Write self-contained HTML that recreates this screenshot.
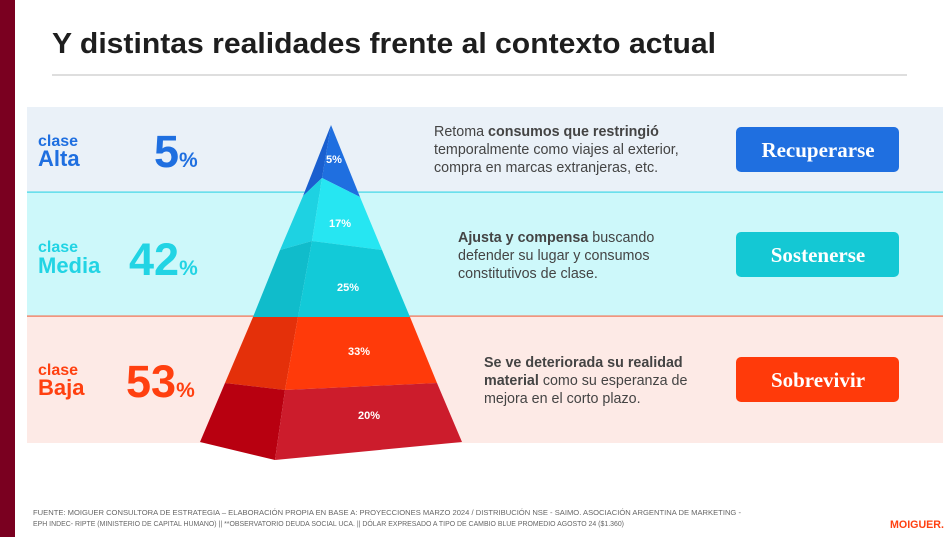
<!DOCTYPE html>
<html><head><meta charset="utf-8"><style>
html,body{margin:0;padding:0;background:#fff;}
svg{display:block;font-family:"Liberation Sans",sans-serif;}
</style></head><body>
<svg width="952" height="537" viewBox="0 0 952 537" xmlns="http://www.w3.org/2000/svg">
<rect x="0" y="0" width="15" height="537" fill="#7a0020"/>
<text x="52" y="53" font-size="29" font-weight="bold" fill="#1e1e1e" textLength="664" lengthAdjust="spacingAndGlyphs">Y distintas realidades frente al contexto actual</text>
<rect x="52" y="74.5" width="855" height="1" fill="#bdbdbd"/>
<rect x="27" y="107" width="916" height="85" fill="#eaf1f8"/>
<rect x="27" y="192" width="916" height="124" fill="#cdf8fa"/>
<rect x="27" y="316" width="916" height="127" fill="#fdeae6"/>
<rect x="27" y="191.5" width="916" height="1.2" fill="#3fd6e6"/>
<rect x="27" y="315.5" width="916" height="1.2" fill="#f07050"/>
<text x="38" y="146" font-size="16" font-weight="bold" fill="#1f6fe0">clase</text>
<text x="38" y="166" font-size="22" font-weight="bold" fill="#1f6fe0">Alta</text>
<text x="154" y="167" font-size="45" font-weight="bold" fill="#1f6fe0">5<tspan font-size="21">%</tspan></text>
<text x="38" y="252" font-size="16" font-weight="bold" fill="#22d4e4">clase</text>
<text x="38" y="273" font-size="22" font-weight="bold" fill="#22d4e4">Media</text>
<text x="129" y="275" font-size="45" font-weight="bold" fill="#22d4e4">42<tspan font-size="21">%</tspan></text>
<text x="38" y="375" font-size="16" font-weight="bold" fill="#ff4010">clase</text>
<text x="38" y="395" font-size="22" font-weight="bold" fill="#ff4010">Baja</text>
<text x="126" y="397" font-size="45" font-weight="bold" fill="#ff4010">53<tspan font-size="21">%</tspan></text>
<polygon points="331,125 303,196 322,178" fill="#1a5fcf"/>
<polygon points="331,125 322,178 360,197" fill="#1f6fe0"/>
<polygon points="303,196 322,178 312,241 280,250" fill="#1ed2e2"/>
<polygon points="322,178 360,197 382,250 312,241" fill="#26e6f2"/>
<polygon points="280,250 312,241 298,317 253,317" fill="#10bccb"/>
<polygon points="312,241 382,250 410,317 298,317" fill="#12cad8"/>
<polygon points="253,317 298,317 285,390 225,383" fill="#e4300a"/>
<polygon points="298,317 410,317 437,383 285,390" fill="#ff3a0a"/>
<polygon points="225,383 285,390 275,460 200,442" fill="#b80010"/>
<polygon points="285,390 437,383 462,442 275,460" fill="#cc1c2c"/>
<g font-size="11" font-weight="bold" fill="#fff" text-anchor="middle">
<text x="334" y="163">5%</text>
<text x="340" y="227">17%</text>
<text x="348" y="291">25%</text>
<text x="359" y="355">33%</text>
<text x="369" y="419">20%</text>
</g>
<g font-size="14.3" fill="#444">
<text x="434" y="136">Retoma <tspan font-weight="bold">consumos que restringió</tspan></text>
<text x="434" y="154">temporalmente como viajes al exterior,</text>
<text x="434" y="172">compra en marcas extranjeras, etc.</text>
<text x="458" y="242"><tspan font-weight="bold">Ajusta y compensa</tspan> buscando</text>
<text x="458" y="260">defender su lugar y consumos</text>
<text x="458" y="278">constitutivos de clase.</text>
<text x="484" y="367" font-weight="bold">Se ve deteriorada su realidad</text>
<text x="484" y="385"><tspan font-weight="bold">material</tspan> como su esperanza de</text>
<text x="484" y="403">mejora en el corto plazo.</text>
</g>
<rect x="736" y="127" width="163" height="45" rx="5" fill="#1f6fe0"/>
<rect x="736" y="232" width="163" height="45" rx="5" fill="#14c8d4"/>
<rect x="736" y="357" width="163" height="45" rx="5" fill="#ff3a0a"/>
<g font-family="Liberation Serif,serif" font-size="21" font-weight="bold" fill="#fff" text-anchor="middle">
<text x="818" y="157">Recuperarse</text>
<text x="818" y="262">Sostenerse</text>
<text x="818" y="387">Sobrevivir</text>
</g>
<g font-size="7" fill="#666">
<text x="33" y="515" textLength="708" lengthAdjust="spacingAndGlyphs">FUENTE: MOIGUER CONSULTORA DE ESTRATEGIA – ELABORACIÓN PROPIA EN BASE A: PROYECCIONES MARZO 2024  / DISTRIBUCIÓN NSE - SAIMO. ASOCIACIÓN ARGENTINA DE MARKETING -</text>
<text x="33" y="526" textLength="591" lengthAdjust="spacingAndGlyphs">EPH INDEC- RIPTE (MINISTERIO DE CAPITAL HUMANO) || **OBSERVATORIO DEUDA SOCIAL UCA. || DÓLAR EXPRESADO A TIPO DE  CAMBIO BLUE PROMEDIO AGOSTO 24 ($1.360)</text>
</g>
<text x="890" y="528" font-size="11" font-weight="bold" fill="#ff4010" textLength="54" lengthAdjust="spacingAndGlyphs">MOIGUER.</text>
</svg>
</body></html>
